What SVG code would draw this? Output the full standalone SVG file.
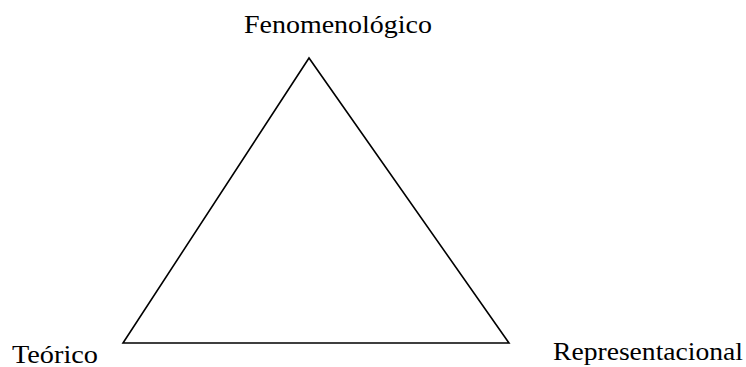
<svg xmlns="http://www.w3.org/2000/svg" width="746" height="367" viewBox="0 0 746 367">
<style>
.lbl{font-family:'Liberation Serif','Times New Roman',serif;font-size:25px;fill:#000}
.edge{fill:none;stroke:#000;stroke-width:1.6}
</style>
<rect width="746" height="367" fill="#fff"/>
<g id="connectors">
<path class="edge" d="M309,58 L123,343 L509,343 Z"/>
</g>
<g id="fenomenologico"><text class="lbl" x="244" y="33" textLength="188" lengthAdjust="spacingAndGlyphs">Fenomenológico</text></g>
<g id="teorico"><text class="lbl" x="12" y="363" textLength="86" lengthAdjust="spacingAndGlyphs">Teórico</text></g>
<g id="representacional"><text class="lbl" x="553" y="360" textLength="190" lengthAdjust="spacingAndGlyphs">Representacional</text></g>
</svg>
